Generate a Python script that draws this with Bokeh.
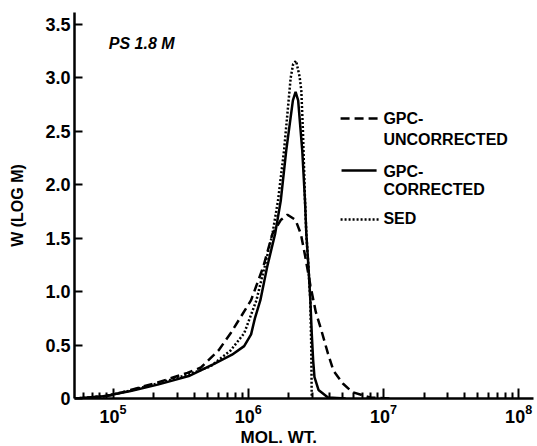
from bokeh.plotting import figure
from bokeh.models import Range1d, FixedTicker, Label, Title
from bokeh.embed import file_html
from bokeh.resources import INLINE

# ---- data (molecular weight, W(log M)) ----
mw_uncorr = [5.25e4, 6.92e4, 9.77e4, 1.35e5, 2.14e5, 3.55e5, 4.47e5, 6.03e5, 7.41e5,
             1.05e6, 1.29e6, 1.51e6, 1.74e6, 1.95e6, 2.24e6, 2.45e6, 2.63e6, 2.88e6,
             3.16e6, 3.47e6, 3.89e6, 4.27e6, 5.01e6, 5.89e6, 7.94e6, 1.12e7]
w_uncorr = [0.0, 0.01, 0.03, 0.08, 0.15, 0.24, 0.29, 0.45, 0.61,
            0.92, 1.23, 1.54, 1.67, 1.72, 1.67, 1.54, 1.34, 1.06,
            0.81, 0.64, 0.42, 0.26, 0.14, 0.06, 0.01, 0.0]

mw_corr = [5.25e4, 8.51e4, 1.35e5, 2.14e5, 3.63e5, 5.50e5, 7.59e5, 9.33e5, 1.05e6,
           1.12e6, 1.23e6, 1.38e6, 1.58e6, 1.74e6, 1.91e6, 2.14e6, 2.24e6, 2.34e6,
           2.51e6, 2.63e6, 2.69e6, 2.79e6, 2.88e6, 2.95e6, 3.02e6, 3.09e6, 3.31e6,
           3.89e6, 5.25e6]
w_corr = [0.0, 0.02, 0.07, 0.13, 0.21, 0.32, 0.41, 0.49, 0.60,
          0.75, 0.92, 1.23, 1.54, 1.85, 2.32, 2.79, 2.87, 2.79,
          2.32, 1.85, 1.54, 1.23, 0.92, 0.61, 0.36, 0.20, 0.08,
          0.01, 0.0]

mw_sed = [5.25e4, 8.51e4, 1.35e5, 2.14e5, 3.72e5, 5.25e5, 7.41e5, 9.33e5, 1.15e6,
          1.32e6, 1.51e6, 1.66e6, 1.84e6, 1.96e6, 2.06e6, 2.15e6, 2.26e6, 2.40e6,
          2.47e6, 2.54e6, 2.63e6, 2.69e6, 2.79e6, 2.88e6, 2.92e6, 2.95e6]
w_sed = [0.0, 0.02, 0.075, 0.14, 0.23, 0.30, 0.45, 0.61, 0.92,
         1.23, 1.54, 1.85, 2.32, 2.70, 3.00, 3.13, 3.16, 3.01,
         2.88, 2.50, 1.85, 1.54, 1.23, 0.92, 0.54, 0.0]

x_major_ticks = [1e5, 1e6, 1e7, 1e8]
y_ticks = [0, 0.5, 1.0, 1.5, 2.0, 2.5, 3.0, 3.5]
y_tick_labels = ["0", "0.5", "1.0", "1.5", "2.0", "2.5", "3.0", "3.5"]

FONT = "Liberation Sans"

x_lo, x_hi = 10 ** 4.715, 10 ** 8.110
p = figure(width=537, height=446, x_axis_type="log", output_backend="svg",
           toolbar_location=None,
           x_range=Range1d(x_lo, x_hi), y_range=Range1d(0, 3.612),
           min_border_left=74, min_border_right=4, min_border_top=12,
           min_border_bottom=48)
p.outline_line_color = None
p.xgrid.visible = False
p.ygrid.visible = False
p.background_fill_color = "white"
p.border_fill_color = "white"

minor = [m * 10 ** e for e in range(4, 8) for m in range(2, 10)]
minor = [v for v in minor if x_lo <= v <= x_hi]
p.xaxis.ticker = FixedTicker(ticks=x_major_ticks, minor_ticks=minor)
p.yaxis.ticker = FixedTicker(ticks=y_ticks, minor_ticks=[])
p.yaxis.major_label_overrides = {t: s for t, s in zip(y_ticks, y_tick_labels)}

for ax in (p.xaxis[0], p.yaxis[0]):
    ax.axis_line_width = 2.5
    ax.axis_line_color = "black"
    ax.major_tick_line_width = 2
    ax.minor_tick_line_width = 2
    ax.major_tick_out = 0
    ax.minor_tick_out = 0
    ax.major_label_text_font = FONT
    ax.major_label_text_font_style = "bold"
    ax.major_label_text_color = "black"

p.xaxis.major_tick_in = 10
p.xaxis.minor_tick_in = 6
p.xaxis.major_label_text_font_size = "18px"
p.xaxis.major_label_standoff = 5
p.yaxis.major_tick_in = 8
p.yaxis.minor_tick_in = 0
p.yaxis.major_label_text_font_size = "18px"
p.yaxis.major_label_standoff = 4

p.yaxis.axis_label = "W (LOG M)"
p.yaxis.axis_label_text_font = FONT
p.yaxis.axis_label_text_font_style = "bold"
p.yaxis.axis_label_text_font_size = "16px"
p.yaxis.axis_label_text_color = "black"
p.yaxis.axis_label_standoff = 16

# x-axis title placed as a bottom title (left of frame centre, as in the original)
p.add_layout(Title(text="MOL. WT.", align="left", offset=166, standoff=0,
                   text_font=FONT, text_font_size="17px", text_font_style="bold",
                   text_color="black"), "below")

# curves
p.line(mw_uncorr, w_uncorr, line_width=2.5, line_dash="9 5", line_color="black")
p.line(mw_corr, w_corr, line_width=2.5, line_color="black")
p.line(mw_sed, w_sed, line_width=2.5, line_dash="2 2", line_color="black")

# legend (drawn by hand)
p.line([4.82e6, 9.2e6], [2.62, 2.62], line_width=2.5, line_dash="9 5", line_color="black")
p.line([4.9e6, 8.9e6], [2.134, 2.134], line_width=2.5, line_color="black")
p.line([4.82e6, 9.4e6], [1.675, 1.675], line_width=2.5, line_dash="2 2", line_color="black")

def txt(x, y, s, size="16px", style="bold"):
    p.add_layout(Label(x=x, y=y, text=s, text_font=FONT, text_font_size=size,
                       text_font_style=style, text_align="left", text_baseline="middle",
                       text_color="black"))

txt(1.0e7, 2.62, "GPC-")
txt(1.0e7, 2.424, "UNCORRECTED")
txt(1.0e7, 2.124, "GPC-")
txt(1.0e7, 1.956, "CORRECTED")
txt(1.0e7, 1.684, "SED")

txt(9.3e4, 3.32, "PS 1.8 M", size="16px", style="bold italic")

open("out.html", "w").write(file_html(p, INLINE))
